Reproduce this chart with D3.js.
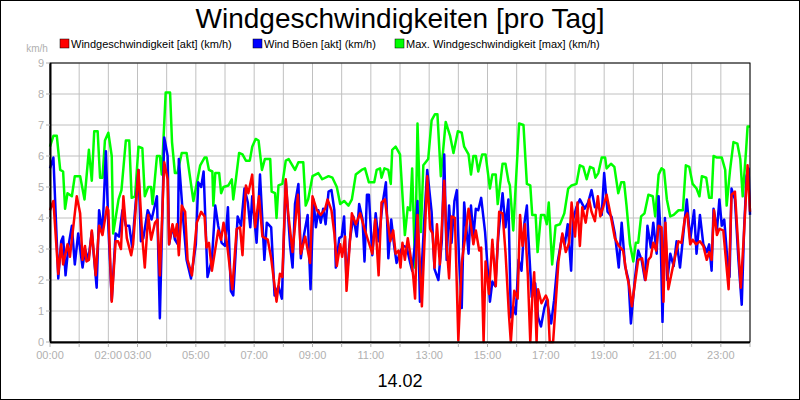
<!DOCTYPE html>
<html>
<head>
<meta charset="utf-8">
<script src="https://cdn.jsdelivr.net/npm/d3@7"></script>
<style>
  body { margin: 0; background: #fff; }
  text { font-family: "Liberation Sans", Arial, sans-serif; }
</style>
</head>
<body>
<script>
// [minute of day, km/h]
var maxWind = [[0,6.3],[7,6.65],[14,6.65],[21,5.55],[27,5.5],[31,4.3],[36,4.8],[45,4.7],[51,5.35],[62,5.35],[71,4.6],[80,6.2],[86,5.2],[91,6.8],[98,6.8],[103,5.3],[108,5.3],[113,6.5],[120,6.75],[127,6.0],[130,3.5],[141,4.6],[147,4.9],[156,6.5],[163,6.5],[168,4.65],[175,4.7],[182,6.3],[190,6.25],[195,4.7],[202,5.0],[208,5.0],[211,4.45],[220,6.0],[226,6.0],[230,5.4],[238,8.05],[247,8.05],[251,6.45],[257,5.45],[262,5.45],[271,6.1],[281,6.1],[295,4.55],[309,5.7],[318,5.95],[322,5.95],[327,5.55],[334,5.5],[336,4.4],[340,5.45],[348,5.45],[352,4.8],[357,5.0],[367,5.05],[374,5.25],[377,4.6],[382,5.2],[389,6.1],[396,6.05],[403,5.85],[411,5.85],[416,6.3],[423,6.55],[429,6.5],[436,5.55],[442,5.9],[453,5.9],[456,4.85],[463,4.8],[466,4.0],[470,5.05],[478,5.1],[485,5.85],[491,5.9],[504,5.55],[511,5.8],[521,5.8],[526,4.4],[531,4.6],[540,5.35],[552,5.45],[560,5.25],[573,5.35],[581,5.3],[590,5.0],[597,4.45],[605,4.55],[614,4.4],[621,4.6],[629,5.4],[641,5.55],[648,5.6],[656,5.15],[667,5.15],[672,5.55],[679,5.6],[682,5.3],[688,5.6],[696,5.55],[701,5.1],[704,6.2],[711,6.3],[720,6.05],[730,3.45],[736,4.35],[741,4.25],[745,5.6],[751,2.4],[756,7.05],[763,3.55],[768,5.7],[778,5.9],[785,7.15],[792,7.35],[797,7.35],[804,5.35],[814,7.1],[823,6.65],[830,6.1],[839,6.8],[847,6.75],[852,6.3],[861,6.05],[866,5.4],[871,6.0],[876,6.0],[881,5.5],[889,6.05],[896,6.05],[905,4.95],[910,5.4],[917,5.4],[921,4.45],[931,5.75],[937,5.75],[943,5.2],[946,5.05],[953,3.6],[965,7.05],[974,7.0],[981,5.1],[988,5.05],[992,4.1],[999,4.1],[1003,2.9],[1010,4.1],[1017,4.1],[1022,3.8],[1026,4.5],[1033,2.5],[1040,3.75],[1049,3.8],[1058,4.15],[1066,4.95],[1073,5.05],[1083,5.1],[1090,5.7],[1097,5.65],[1104,5.25],[1111,5.65],[1118,5.6],[1122,5.3],[1128,5.45],[1135,5.95],[1142,5.95],[1145,5.6],[1154,5.75],[1161,5.65],[1169,4.8],[1175,5.15],[1181,5.15],[1186,4.4],[1193,3.15],[1200,2.6],[1205,3.2],[1210,3.2],[1216,4.05],[1223,4.15],[1231,4.75],[1240,4.7],[1245,4.05],[1252,5.4],[1258,5.6],[1263,5.55],[1269,4.6],[1276,4.05],[1283,4.1],[1293,4.25],[1302,4.25],[1308,5.7],[1315,5.65],[1322,5.1],[1330,4.95],[1336,4.7],[1341,5.35],[1350,5.3],[1356,4.65],[1361,4.65],[1365,6.0],[1372,5.95],[1382,5.95],[1389,5.55],[1392,4.4],[1399,5.55],[1406,6.45],[1414,6.4],[1420,5.9],[1425,4.7],[1432,6.2],[1435,6.95],[1440,6.95]];

var gusts = [[0,5.6],[7,5.95],[17,2.05],[23,3.25],[27,3.4],[32,2.15],[38,3.1],[45,3.75],[51,2.5],[58,3.5],[67,2.4],[72,3.0],[79,2.65],[86,3.55],[96,1.75],[101,4.25],[108,3.55],[115,6.15],[120,3.75],[127,1.35],[135,3.5],[142,3.4],[149,4.25],[156,3.75],[163,3.75],[169,3.05],[175,4.25],[182,5.55],[187,3.25],[192,3.35],[201,4.25],[209,3.95],[220,4.7],[226,0.77],[235,6.6],[242,6.0],[245,3.15],[252,3.75],[257,3.3],[263,3.15],[265,5.9],[274,3.95],[281,2.65],[290,2.05],[300,3.15],[305,5.15],[311,5.0],[316,5.5],[324,2.1],[333,2.65],[340,4.4],[346,3.75],[353,3.2],[360,3.1],[366,4.35],[372,1.65],[377,1.5],[386,4.05],[393,3.75],[400,4.95],[407,4.5],[412,3.7],[416,4.7],[425,3.2],[432,5.4],[441,2.65],[446,3.85],[455,3.7],[462,1.5],[470,1.8],[477,1.4],[485,5.2],[494,3.1],[499,2.4],[504,4.45],[511,5.1],[516,2.7],[523,3.5],[530,4.1],[536,1.7],[542,4.6],[547,3.7],[552,4.25],[557,3.85],[562,4.3],[567,3.8],[573,4.85],[579,4.9],[585,4.25],[588,2.4],[595,3.35],[600,3.4],[605,4.05],[610,1.95],[617,3.3],[624,4.05],[631,3.4],[636,4.45],[643,3.95],[647,2.6],[652,4.75],[656,4.75],[663,2.8],[670,4.15],[676,3.25],[684,4.45],[691,5.15],[696,2.7],[702,3.95],[708,3.1],[713,2.55],[720,2.9],[727,3.1],[734,3.05],[741,2.55],[745,2.3],[751,3.2],[756,4.55],[761,1.3],[770,3.95],[776,5.55],[785,4.2],[791,2.35],[799,2.0],[806,3.25],[811,6.05],[816,2.65],[821,4.4],[826,3.2],[832,4.55],[837,4.9],[841,2.85],[847,1.1],[852,4.5],[861,2.85],[866,4.4],[871,3.4],[876,4.3],[881,4.25],[887,4.65],[895,3.55],[900,2.45],[905,1.3],[910,1.95],[916,1.8],[922,3.4],[931,4.8],[937,3.7],[943,4.6],[948,0.8],[953,1.15],[958,0.9],[964,2.65],[970,2.3],[976,3.85],[981,4.4],[984,3.4],[991,1.45],[998,1.9],[1004,0.8],[1010,0.5],[1017,1.1],[1022,1.35],[1031,0.6],[1037,1.35],[1044,2.55],[1054,3.45],[1059,3.15],[1065,3.8],[1072,2.3],[1076,3.95],[1083,4.35],[1090,4.6],[1100,4.3],[1107,4.5],[1114,4.9],[1121,4.35],[1129,4.35],[1135,4.1],[1140,5.45],[1147,4.2],[1155,4.05],[1162,3.5],[1170,2.4],[1176,3.85],[1183,2.45],[1190,2.0],[1195,0.6],[1203,2.0],[1210,2.95],[1217,2.65],[1224,2.0],[1229,3.75],[1236,3.05],[1241,3.85],[1248,2.85],[1252,4.7],[1256,3.5],[1260,0.65],[1265,4.0],[1270,2.0],[1276,2.85],[1283,2.45],[1289,3.25],[1296,2.4],[1303,3.5],[1310,4.6],[1317,3.3],[1325,4.25],[1330,2.85],[1337,4.1],[1344,3.15],[1351,2.9],[1356,3.15],[1361,2.3],[1365,4.3],[1372,3.6],[1377,4.6],[1382,3.75],[1387,3.95],[1393,2.75],[1398,2.1],[1402,4.95],[1409,4.6],[1416,2.7],[1423,1.2],[1428,3.7],[1433,5.35],[1437,5.6],[1440,4.1]];

var wind = [[0,4.25],[7,4.55],[17,2.2],[23,3.15],[27,2.5],[36,3.15],[41,2.75],[55,4.7],[62,4.15],[67,2.65],[72,3.1],[75,2.6],[80,2.65],[86,3.6],[94,2.15],[101,3.75],[108,3.45],[117,4.35],[120,4.25],[127,1.3],[135,3.25],[140,3.25],[146,3.0],[151,4.7],[158,3.35],[167,2.8],[171,3.15],[182,5.55],[190,3.35],[195,2.4],[202,4.1],[208,3.3],[216,3.85],[221,3.95],[226,2.15],[235,5.8],[242,5.25],[245,3.15],[252,3.8],[257,3.4],[261,3.8],[265,2.8],[271,4.4],[278,4.2],[283,2.65],[292,2.15],[302,3.85],[311,4.2],[318,4.05],[322,3.05],[327,3.2],[333,2.3],[346,3.6],[352,3.3],[357,3.85],[364,3.2],[368,2.65],[375,1.7],[384,3.65],[391,3.7],[396,2.8],[403,5.05],[408,4.8],[416,5.4],[422,3.7],[430,4.7],[437,3.4],[448,3.3],[455,2.7],[466,1.3],[473,2.2],[478,2.1],[485,5.25],[490,4.15],[499,2.9],[510,4.75],[516,2.85],[525,3.4],[535,2.55],[540,4.7],[549,4.25],[557,4.1],[566,4.3],[571,4.6],[579,4.25],[585,3.5],[590,2.45],[597,3.15],[601,2.75],[607,3.4],[610,1.65],[621,4.15],[629,3.8],[638,4.15],[647,3.65],[655,3.25],[663,2.85],[669,3.95],[676,2.15],[682,4.5],[689,4.6],[700,3.25],[706,3.6],[711,2.85],[717,2.95],[721,2.4],[725,3.2],[730,2.65],[736,3.35],[741,2.85],[747,2.15],[751,1.4],[756,4.1],[765,1.15],[770,3.1],[776,5.35],[782,3.65],[787,3.5],[791,2.4],[796,3.8],[802,2.5],[811,5.2],[816,3.1],[821,2.05],[826,4.05],[833,4.0],[840,0.05],[847,2.55],[855,3.5],[861,4.3],[867,3.65],[871,3.15],[876,3.6],[883,2.95],[887,3.05],[892,0],[896,2.6],[903,1.55],[910,3.3],[917,1.8],[924,4.2],[931,4.15],[937,2.9],[944,0.9],[948,0],[955,1.65],[962,1.4],[967,4.1],[972,3.1],[977,3.8],[983,2.15],[988,0],[992,1.4],[996,2.25],[1001,0],[1004,1.7],[1011,1.25],[1020,1.5],[1024,1.35],[1028,0],[1035,0],[1046,2.6],[1054,3.5],[1061,2.9],[1068,3.2],[1073,4.5],[1080,3.4],[1085,4.5],[1090,3.1],[1095,4.35],[1102,3.85],[1109,4.6],[1114,4.2],[1121,3.9],[1127,4.7],[1132,4.05],[1138,4.35],[1145,4.75],[1152,4.2],[1162,3.35],[1170,3.1],[1179,2.95],[1186,2.2],[1191,1.85],[1197,1.15],[1202,1.75],[1210,2.65],[1218,2.7],[1225,2.0],[1231,2.65],[1236,2.75],[1241,3.2],[1247,2.95],[1252,3.75],[1258,3.7],[1262,1.3],[1266,3.85],[1272,1.7],[1283,2.55],[1293,3.25],[1299,3.2],[1306,4.0],[1311,4.15],[1317,3.15],[1322,3.3],[1329,3.15],[1337,3.25],[1344,3.1],[1351,2.65],[1356,2.9],[1361,2.65],[1366,4.25],[1372,3.45],[1377,3.65],[1385,3.6],[1396,1.7],[1402,4.75],[1409,4.85],[1421,1.75],[1428,3.6],[1435,5.7],[1440,4.2]];

var tickHours = [0,2,3,5,7,9,11,13,15,17,19,21,23];
var yTicks = [0,1,2,3,4,5,6,7,8,9];
var legend = [
  {name: "Windgeschwindigkeit [akt] (km/h)", color: "#ff0000", x: 60},
  {name: "Wind Böen [akt] (km/h)", color: "#0000ff", x: 253},
  {name: "Max. Windgeschwindigkeit [max] (km/h)", color: "#00ff00", x: 395}
];

var W = 800, H = 400;
var pL = 50, pR = 750, pT = 63, pB = 342;

var svg = d3.select("body").append("svg")
    .attr("width", W).attr("height", H);

svg.append("rect").attr("x", 0.5).attr("y", 0.5)
    .attr("width", W - 1).attr("height", H - 1)
    .attr("fill", "#fff").attr("stroke", "#000");

var x = d3.scaleLinear().domain([0, 1440]).range([pL, pR]);
var y = d3.scaleLinear().domain([0, 9]).range([pB, pT]);

// grid
svg.append("g").selectAll("line").data(d3.range(1, 25)).enter().append("line")
    .attr("x1", d => x(d * 60)).attr("x2", d => x(d * 60))
    .attr("y1", pT).attr("y2", pB)
    .attr("stroke", "#c0c0c0");
svg.append("g").selectAll("line").data(yTicks.slice(1)).enter().append("line")
    .attr("x1", pL).attr("x2", pR)
    .attr("y1", d => y(d)).attr("y2", d => y(d))
    .attr("stroke", "#c0c0c0");

// lines
var line = d3.line().x(d => x(d[0])).y(d => y(d[1]));
[[maxWind, "#00ff00"], [gusts, "#0000ff"], [wind, "#ff0000"]].forEach(function(s) {
  svg.append("path").attr("d", line(s[0]))
      .attr("fill", "none").attr("stroke", s[1])
      .attr("stroke-width", 2.5).attr("stroke-linejoin", "round");
});

// frame
svg.append("rect").attr("x", pL).attr("y", pT)
    .attr("width", pR - pL).attr("height", pB - pT)
    .attr("fill", "none").attr("stroke", "#000");
svg.append("line").attr("x1", pL).attr("x2", pR)
    .attr("y1", pB + 0.5).attr("y2", pB + 0.5).attr("stroke", "#000").attr("stroke-width", 2);
svg.append("line").attr("x1", pL + 0.5).attr("x2", pL + 0.5)
    .attr("y1", pT).attr("y2", pB).attr("stroke", "#000").attr("stroke-width", 2);

// x ticks
svg.append("g").selectAll("line").data(d3.range(0, 25)).enter().append("line")
    .attr("x1", d => x(d * 60)).attr("x2", d => x(d * 60))
    .attr("y1", pB + 1).attr("y2", pB + 5)
    .attr("stroke", "#b0b0b0");
svg.append("g").selectAll("text").data(tickHours).enter().append("text")
    .attr("x", d => x(d * 60)).attr("y", pB + 17)
    .attr("text-anchor", "middle").attr("font-size", 11).attr("fill", "#b0b0b0")
    .text(d => (d < 10 ? "0" : "") + d + ":00");

// y ticks
svg.append("g").selectAll("line").data(yTicks).enter().append("line")
    .attr("x1", pL - 4).attr("x2", pL)
    .attr("y1", d => y(d)).attr("y2", d => y(d))
    .attr("stroke", "#b0b0b0");
svg.append("g").selectAll("text").data(yTicks).enter().append("text")
    .attr("x", pL - 6).attr("y", d => y(d) + 4)
    .attr("text-anchor", "end").attr("font-size", 11).attr("fill", "#b0b0b0")
    .text(d => d);
svg.append("text").attr("x", 37).attr("y", 52).attr("text-anchor", "middle")
    .attr("font-size", 10).attr("fill", "#b0b0b0").text("km/h");

// title
svg.append("text").attr("x", W / 2).attr("y", 28).attr("text-anchor", "middle")
    .attr("font-size", 28).attr("fill", "#000").text("Windgeschwindigkeiten [pro Tag]");

// legend
var lg = svg.append("g").selectAll("g").data(legend).enter().append("g");
lg.append("rect").attr("x", d => d.x).attr("y", 39).attr("width", 9).attr("height", 9)
    .attr("fill", d => d.color).attr("stroke", "#000").attr("stroke-width", 0.5);
lg.append("text").attr("x", d => d.x + 11).attr("y", 48)
    .attr("font-size", 11).attr("fill", "#000").text(d => d.name);

// date
svg.append("text").attr("x", W / 2).attr("y", 387).attr("text-anchor", "middle")
    .attr("font-size", 18).attr("fill", "#000").text("14.02");
</script>
</body>
</html>
